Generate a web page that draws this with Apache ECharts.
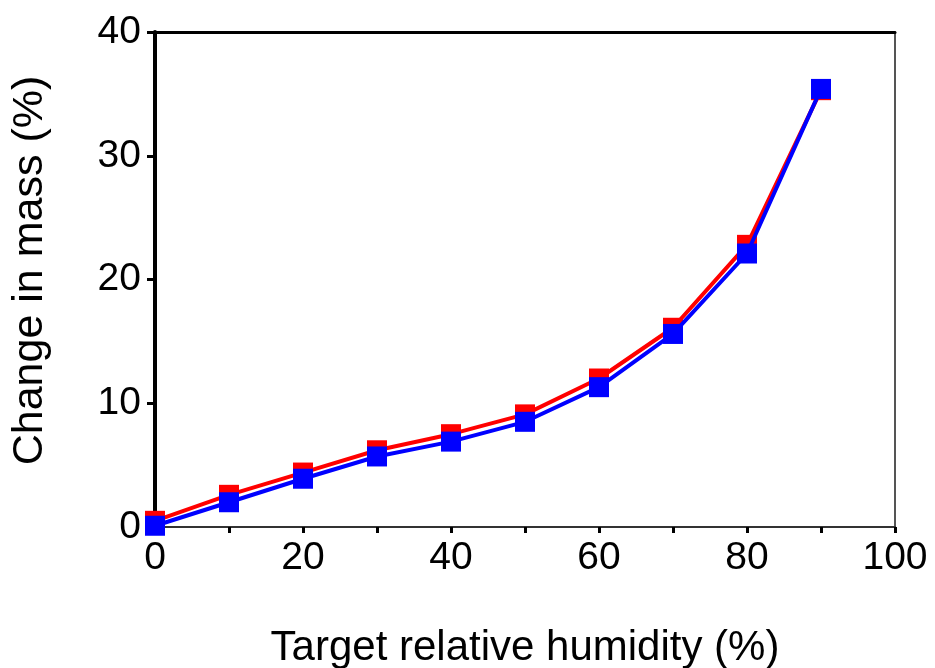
<!DOCTYPE html>
<html>
<head>
<meta charset="utf-8">
<script src="https://cdn.jsdelivr.net/npm/echarts@6/dist/echarts.min.js"></script>
<style>
  html, body { margin: 0; padding: 0; background: #fff; }
  #chart { width: 935px; height: 668px; }
</style>
</head>
<body>
<div id="chart"></div>
<script>
// humidity steps (%)
const humidity = [0, 10, 20, 30, 40, 50, 60, 70, 80, 90];
// mass change, red run
const massRed = [0.5, 2.6, 4.4, 6.2, 7.5, 9.1, 12.0, 16.1, 22.8, 35.3];
// mass change, blue run
const massBlue = [0.1, 2.0, 3.9, 5.7, 6.9, 8.5, 11.3, 15.6, 22.1, 35.4];

const yTicks = [0, 10, 20, 30, 40];

const font = 'Liberation Sans, Arial, sans-serif';

const chart = echarts.init(document.getElementById('chart'));

function pairs(xs, ys) {
    return xs.map((x, i) => [x, ys[i]]);
}

const option = {
    backgroundColor: '#fff',
    animation: false,
    // keep the plot box fixed, don't let v6 shrink it for the names
    grid: { left: 155, right: 40, top: 32, bottom: 141, outerBoundsMode: 'none' },
    xAxis: [{
        type: 'value',
        min: 0, max: 100, interval: 10,
        name: 'Target relative humidity (%)',
        nameLocation: 'middle',
        nameGap: 100,
        nameTextStyle: { fontFamily: font, fontSize: 42, color: '#000' },
        axisLine: { onZero: false, lineStyle: { color: '#333', width: 2 } },
        axisTick: { length: 6, lineStyle: { color: '#000', width: 3 } },
        axisLabel: {
            margin: 12,
            fontFamily: font, fontSize: 39, color: '#000',
            formatter: v => (v % 20 === 0 ? String(v) : '')
        },
        splitLine: { show: false }
    }, {
        type: 'value', position: 'top',
        min: 0, max: 100,
        axisLine: { show: true, onZero: false, lineStyle: { color: '#000', width: 3 } },
        axisTick: { show: false }, axisLabel: { show: false },
        splitLine: { show: false }
    }],
    yAxis: [{
        type: 'value',
        min: yTicks[0], max: yTicks[yTicks.length - 1], interval: 10,
        name: 'Change in mass (%)',
        nameLocation: 'middle',
        nameGap: 103,
        nameTextStyle: { fontFamily: font, fontSize: 43, color: '#000', padding: [0, 0, 0, 18] },
        axisLine: { show: true, onZero: false, lineStyle: { color: '#000', width: 4 } },
        axisTick: { show: true, length: 8, lineStyle: { color: '#000', width: 3 } },
        axisLabel: { margin: 14, fontFamily: font, fontSize: 39, color: '#000' },
        splitLine: { show: false }
    }, {
        type: 'value', position: 'right',
        min: 0, max: 40,
        axisLine: { show: true, onZero: false, lineStyle: { color: '#555', width: 2 } },
        axisTick: { show: false }, axisLabel: { show: false },
        splitLine: { show: false }
    }],
    series: [{
        name: 'red',
        type: 'line',
        data: pairs(humidity, massRed),
        symbol: 'rect',
        symbolSize: 20,
        lineStyle: { color: '#ff0000', width: 4 },
        itemStyle: { color: '#ff0000' },
        z: 2
    }, {
        name: 'blue',
        type: 'line',
        data: pairs(humidity, massBlue),
        symbol: 'rect',
        symbolSize: 20,
        lineStyle: { color: '#0000ff', width: 4 },
        itemStyle: { color: '#0000ff' },
        z: 3
    }]
};

chart.setOption(option);
</script>
</body>
</html>
